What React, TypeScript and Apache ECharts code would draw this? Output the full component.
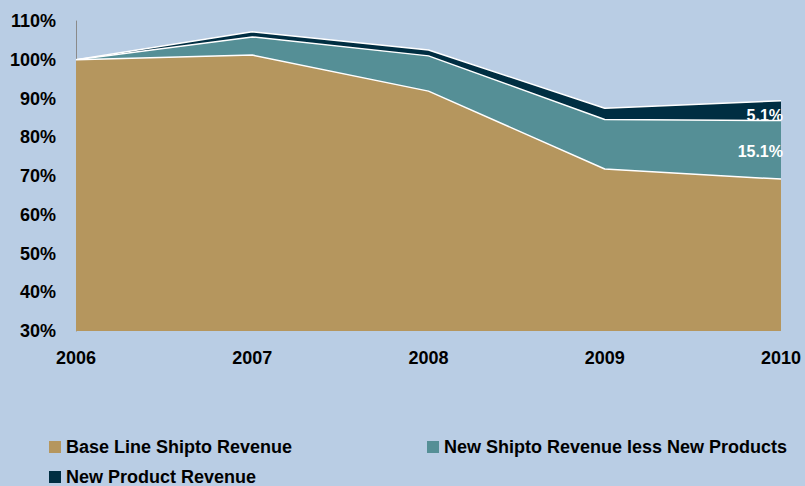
import React, { useEffect, useRef } from "react";
import * as echarts from "echarts";

const years = ["2006", "2007", "2008", "2009", "2010"];
const baseLine = [100, 101.2, 91.9, 71.8, 69.2];
const newShipto = [0, 4.7, 9.1, 12.8, 15.1];
const newProduct = [0, 1.3, 1.5, 2.9, 5.1];
const seriesNames = [
  "Base Line Shipto Revenue",
  "New Shipto Revenue less New Products",
  "New Product Revenue",
];
const colors = ["#B5965E", "#558F96", "#002E42"];

const FONT = "'Liberation Sans', Arial, sans-serif";

export default function App() {
  const ref = useRef<HTMLDivElement>(null);
  useEffect(() => {
    if (!ref.current) return;
    const chart = echarts.init(ref.current, undefined, { renderer: "svg" });
    const lastLabel = (vals: number[], offY: number) =>
      vals.map((v, i) =>
        i === vals.length - 1
          ? {
              value: v,
              label: {
                show: true,
                position: "left",
                distance: 0,
                offset: [2, offY],
                formatter: v.toFixed(1) + "%",
                color: "#ffffff",
                fontFamily: FONT,
                fontWeight: "bold",
                fontSize: 16,
              },
            }
          : v
      );
    const legendBase = {
      itemWidth: 12,
      itemHeight: 12,
      itemGap: 5,
      padding: 0,
      icon: "rect",
      textStyle: {
        fontFamily: FONT,
        fontWeight: "bold" as const,
        fontSize: 18,
        lineHeight: 18,
        color: "#000",
      },
    };
    chart.setOption({
      animation: false,
      backgroundColor: "#B9CDE4",
      grid: { left: 76, right: 24, top: 21, bottom: 155 },
      legend: [
        { ...legendBase, left: 49, top: 438, data: [seriesNames[0]] },
        { ...legendBase, left: 427, top: 438, data: [seriesNames[1]] },
        { ...legendBase, left: 49, top: 468, data: [seriesNames[2]] },
      ],
      xAxis: {
        type: "category",
        data: years,
        boundaryGap: false,
        axisLine: { show: false },
        axisTick: { show: false },
        axisLabel: {
          margin: 18,
          fontFamily: FONT,
          fontWeight: "bold",
          fontSize: 18,
          color: "#000",
        },
      },
      yAxis: {
        type: "value",
        min: 30,
        max: 110,
        interval: 10,
        splitLine: { show: false },
        axisLine: { show: true, lineStyle: { color: "#8a8a8a", width: 1 } },
        axisTick: { show: false },
        axisLabel: {
          margin: 20,
          formatter: "{value}%",
          fontFamily: FONT,
          fontWeight: "bold",
          fontSize: 18,
          color: "#000",
        },
      },
      series: [
        {
          name: seriesNames[0],
          type: "line",
          stack: "total",
          data: baseLine,
          symbol: "none",
          itemStyle: { color: colors[0] },
          lineStyle: { color: "#ffffff", width: 1.5 },
          areaStyle: { color: colors[0], opacity: 1 },
          z: 3,
        },
        {
          name: seriesNames[1],
          type: "line",
          stack: "total",
          data: lastLabel(newShipto, 31),
          symbol: "circle",
          symbolSize: 0,
          showSymbol: true,
          showAllSymbol: true,
          itemStyle: { color: colors[1] },
          lineStyle: { color: "#ffffff", width: 1.5 },
          areaStyle: { color: colors[1], opacity: 1 },
          z: 2,
        },
        {
          name: seriesNames[2],
          type: "line",
          stack: "total",
          data: lastLabel(newProduct, 15),
          symbol: "circle",
          symbolSize: 0,
          showSymbol: true,
          showAllSymbol: true,
          itemStyle: { color: colors[2] },
          lineStyle: { color: "#ffffff", width: 1.5 },
          areaStyle: { color: colors[2], opacity: 1 },
          z: 1,
        },
      ],
    });
    return () => chart.dispose();
  }, []);
  return (
    <div
      ref={ref}
      style={{ width: 805, height: 486, position: "fixed", left: 0, top: 0 }}
    />
  );
}
